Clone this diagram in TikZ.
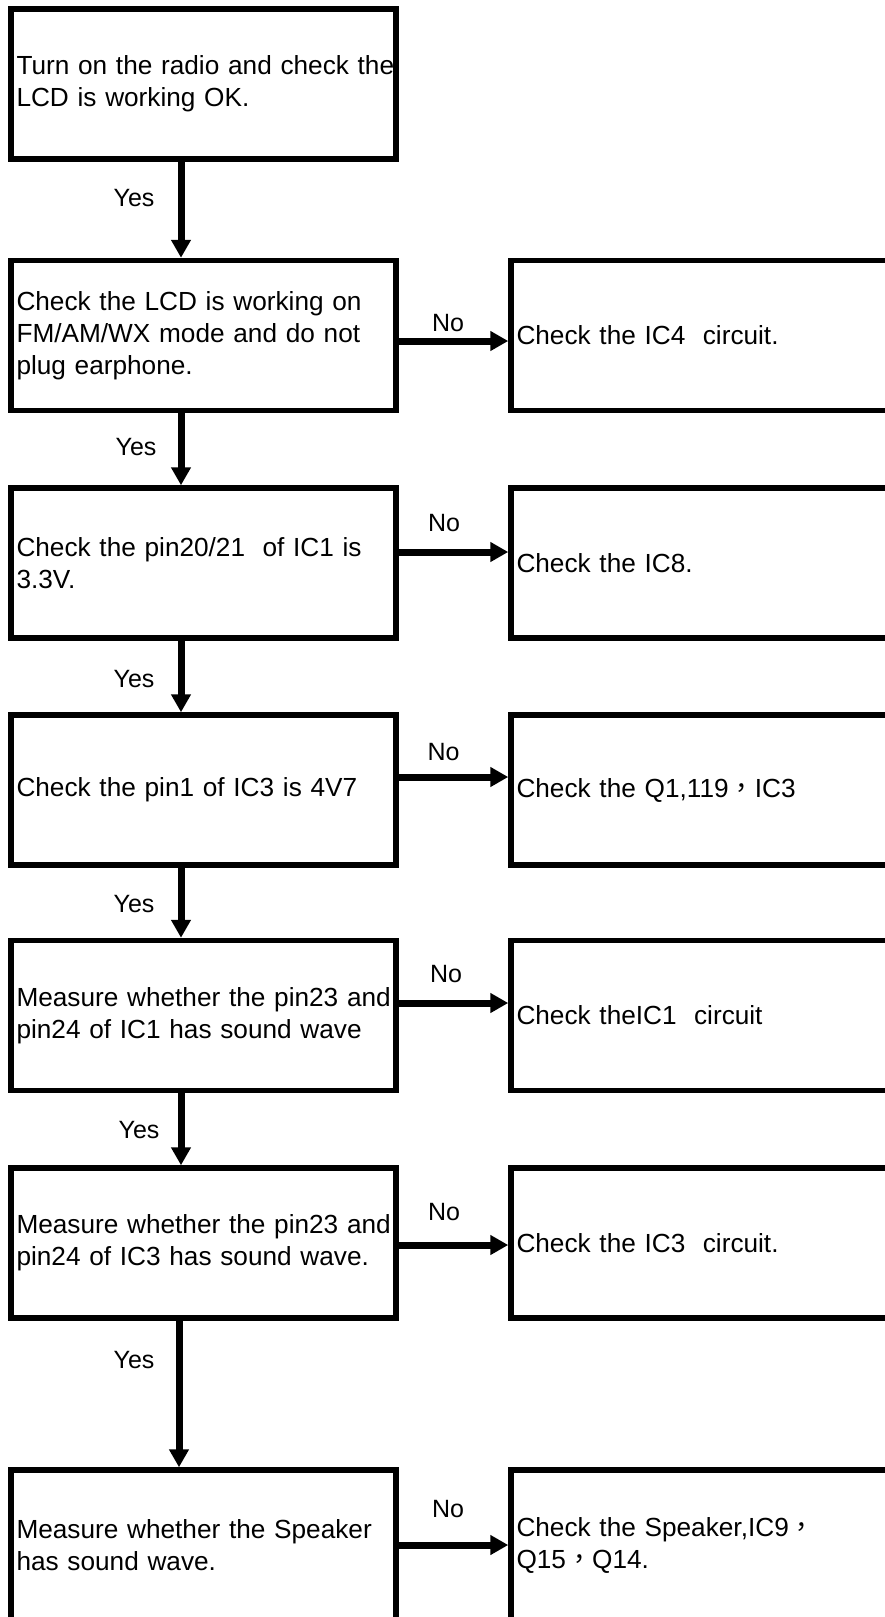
\documentclass[tikz,border=0pt]{standalone}
\usepackage{fontspec}
\setmainfont{Liberation Sans}
\newfontfamily\cjkfont{Noto Sans CJK TC}
\usetikzlibrary{arrows.meta}
\newcommand{\fwc}{{\cjkfont ，}}
\begin{document}
\begin{tikzpicture}[x=1pt,y=-1pt,
  box/.style={draw, line width=5.5pt, rectangle, minimum height=150pt,
    inner xsep=5.5pt, inner ysep=4pt, align=left,
    font=\fontsize{26.2}{32}\selectfont},
  lbox/.style={box, text width=374pt},
  rbox/.style={box, text width=409pt},
  conn/.style={line width=7pt, -{Triangle[length=18pt,width=19pt]}},
  lbl/.style={font=\fontsize{25}{30}\selectfont, inner sep=0pt}
]
\useasboundingbox (0,0) rectangle (885,1617);
\fill[white] (0,0) rectangle (885,1617);
\clip (0,0) rectangle (885,1617);

% left column
\node[lbox] (b1) at (203.5,84) {\mbox{Turn on the radio and check the}\\\mbox{LCD is working OK.}};
\node[lbox] (b2) at (203.5,335.5) {\mbox{Check the LCD is working on}\\\mbox{FM/AM/WX mode and do not}\\\mbox{plug earphone.}};
\node[lbox] (b3) at (203.5,563) {\mbox{Check the pin20/21\ \ of IC1 is}\\\mbox{3.3V.}};
\node[lbox] (b4) at (203.5,790) {\mbox{Check the pin1 of IC3 is 4V7}};
\node[lbox] (b5) at (203.5,1015.5) {\mbox{Measure whether the pin23 and}\\\mbox{pin24 of IC1 has sound wave}};
\node[lbox] (b6) at (203.5,1243) {\mbox{Measure whether the pin23 and}\\\mbox{pin24 of IC3 has sound wave.}};
\node[lbox] (b7) at (203.5,1545) {\mbox{Measure whether the Speaker}\\\mbox{has sound wave.}};

% right column
\node[rbox] (r2) at (721,335.5) {Check the IC4\ \ circuit.};
\node[rbox] (r3) at (721,563) {Check the IC8.};
\node[rbox] (r4) at (721,790) {Check the Q1,119\fwc IC3};
\node[rbox] (r5) at (721,1015.5) {Check theIC1\ \ circuit};
\node[rbox] (r6) at (721,1243) {Check the IC3\ \ circuit.};
\node[rbox] (r7) at (721,1545) {Check the Speaker,IC9\fwc\\Q15\fwc Q14.};

% helper coordinates
\coordinate (ax) at (181,0);
\coordinate (ax7) at (179,0);
\coordinate (y2) at (0,341);
\coordinate (y3) at (0,552);
\coordinate (y4) at (0,777);
\coordinate (y5) at (0,1003);
\coordinate (y6) at (0,1245);
\coordinate (y7) at (0,1545);

% vertical Yes arrows
\draw[conn] (b1.south -| ax) -- (b2.north -| ax);
\draw[conn] (b2.south -| ax) -- (b3.north -| ax);
\draw[conn] (b3.south -| ax) -- (b4.north -| ax);
\draw[conn] (b4.south -| ax) -- (b5.north -| ax);
\draw[conn] (b5.south -| ax) -- (b6.north -| ax);
\draw[conn] (b6.south -| ax7) -- (b7.north -| ax7);

% horizontal No arrows
\draw[conn] (b2.east |- y2) -- (r2.west |- y2);
\draw[conn] (b3.east |- y3) -- (r3.west |- y3);
\draw[conn] (b4.east |- y4) -- (r4.west |- y4);
\draw[conn] (b5.east |- y5) -- (r5.west |- y5);
\draw[conn] (b6.east |- y6) -- (r6.west |- y6);
\draw[conn] (b7.east |- y7) -- (r7.west |- y7);

% labels
\node[lbl] (yes1) at (134,198.5) {Yes};
\node[lbl] (yes2) at (136,447) {Yes};
\node[lbl] (yes3) at (134,679) {Yes};
\node[lbl] (yes4) at (134,904) {Yes};
\node[lbl] (yes5) at (139,1130) {Yes};
\node[lbl] (yes6) at (134,1360) {Yes};

\node[lbl] (no2) at (448,323) {No};
\node[lbl] (no3) at (444,523) {No};
\node[lbl] (no4) at (443.5,752) {No};
\node[lbl] (no5) at (446,974) {No};
\node[lbl] (no6) at (444,1212) {No};
\node[lbl] (no7) at (448,1509) {No};
\end{tikzpicture}
\end{document}
